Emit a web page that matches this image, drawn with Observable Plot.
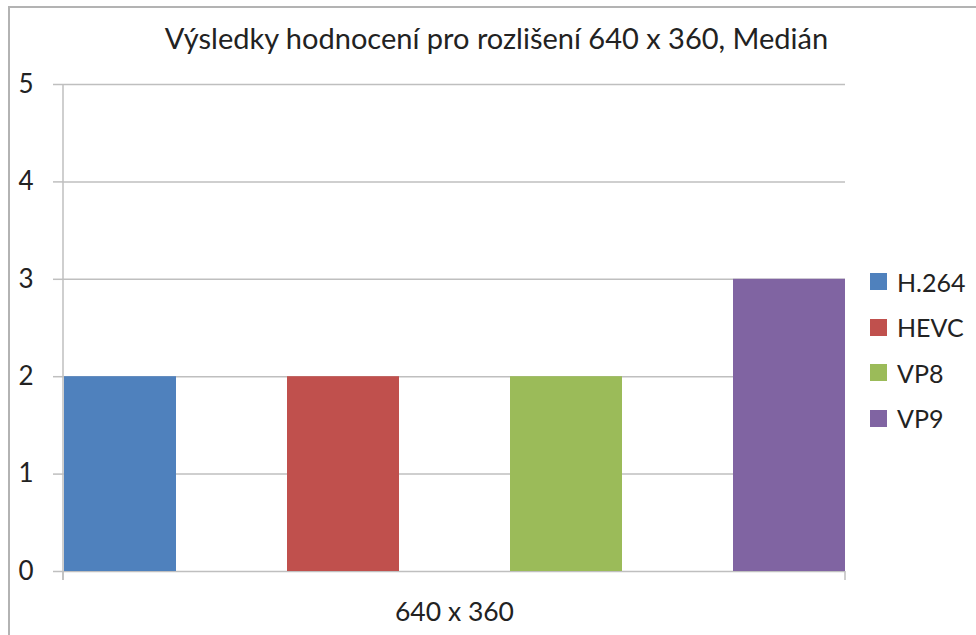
<!DOCTYPE html>
<html>
<head>
<meta charset="utf-8">
<script src="https://cdn.jsdelivr.net/npm/d3@7"></script>
<script src="https://cdn.jsdelivr.net/npm/@observablehq/plot@0.6"></script>
<style>
  html, body { margin: 0; padding: 0; background: #fff; }
  #wrap { position: relative; width: 976px; height: 635px; overflow: hidden; font-family: Lato, "Open Sans", sans-serif; }
  #border { position: absolute; left: 8px; top: 6px; width: 1200px; height: 900px;
            border-top: 2.5px solid #b3b3b3; border-left: 2.5px solid #b3b3b3; }
  #chart { position: absolute; left: 0; top: 0; }
  #legend { position: absolute; left: 870px; top: 259px; font-size: 25px; color: #222; }
  .item { display: flex; align-items: center; height: 45.5px; }
  .sw { width: 17px; height: 17px; margin-right: 10px; }
</style>
</head>
<body>
<div id="wrap"><div id="border"></div><div id="chart"></div><div id="legend"></div></div>
<script>
const title = "Výsledky hodnocení pro rozlišení 640 x 360, Medián";
const category = "640 x 360";
const series = ["H.264", "HEVC", "VP8", "VP9"];
const values = [2, 2, 2, 3];
const colors = ["#4f81bd", "#c0504d", "#9bbb59", "#8064a2"];
const yTicks = [0, 1, 2, 3, 4, 5];

const data = series.map((s, i) => ({series: s, value: values[i]}));

const W = 976, H = 635, mL = 63, mR = 131, mT = 84, mB = 64;

function axisLines(...args) {
  const dims = args.find(a => a && typeof a === "object" && "marginLeft" in a && "width" in a);
  const g = d3.create("svg:g");
  if (!dims) return g.node();
  const x0 = dims.marginLeft, x1 = dims.width - dims.marginRight, y0 = dims.height - dims.marginBottom;
  for (const x of [x0, x1]) {
    g.append("line").attr("x1", x).attr("x2", x).attr("y1", y0).attr("y2", y0 + 9)
      .attr("stroke", "#bfbfbf").attr("stroke-width", 1.5);
  }
  g.append("line").attr("x1", x0).attr("x2", x0).attr("y1", dims.marginTop).attr("y2", y0 + 9)
    .attr("stroke", "#bfbfbf").attr("stroke-width", 1.5);
  return g.node();
}

const chart = Plot.plot({
  width: W, height: H,
  marginLeft: mL, marginRight: mR, marginTop: mT, marginBottom: mB,
  style: {fontFamily: "Lato, 'Open Sans', sans-serif", color: "#222", background: "transparent"},
  x: {domain: series, paddingInner: 0.5, paddingOuter: 0, axis: null},
  y: {domain: [0, 5], axis: null},
  color: {domain: series, range: colors},
  marks: [
    Plot.ruleY(yTicks, {stroke: "#bfbfbf", strokeWidth: 1.5}),
    Plot.barY(data, {x: "series", y: "value", fill: "series"}),
    axisLines,
    Plot.axisY(yTicks, {tickSize: 10, tickPadding: 20, fontSize: 26, tickFormat: d3.format("d"), stroke: "#bfbfbf", strokeWidth: 1.5, label: null, fill: "#222"}),
    Plot.text([category], {frameAnchor: "bottom", dy: 41, lineAnchor: "middle", fontSize: 26.5, fill: "#222", text: d => d}),
    Plot.text([title], {frameAnchor: "top", dx: 42, dy: -45, lineAnchor: "middle", fontSize: 29, fill: "#222", text: d => d})
  ]
});
document.getElementById("chart").appendChild(chart);

const leg = document.getElementById("legend");
series.forEach((s, i) => {
  const it = document.createElement("div");
  it.className = "item";
  const sw = document.createElement("div");
  sw.className = "sw";
  sw.style.background = colors[i];
  const t = document.createElement("span");
  t.textContent = s;
  it.appendChild(sw); it.appendChild(t);
  leg.appendChild(it);
});
</script>
</body>
</html>
